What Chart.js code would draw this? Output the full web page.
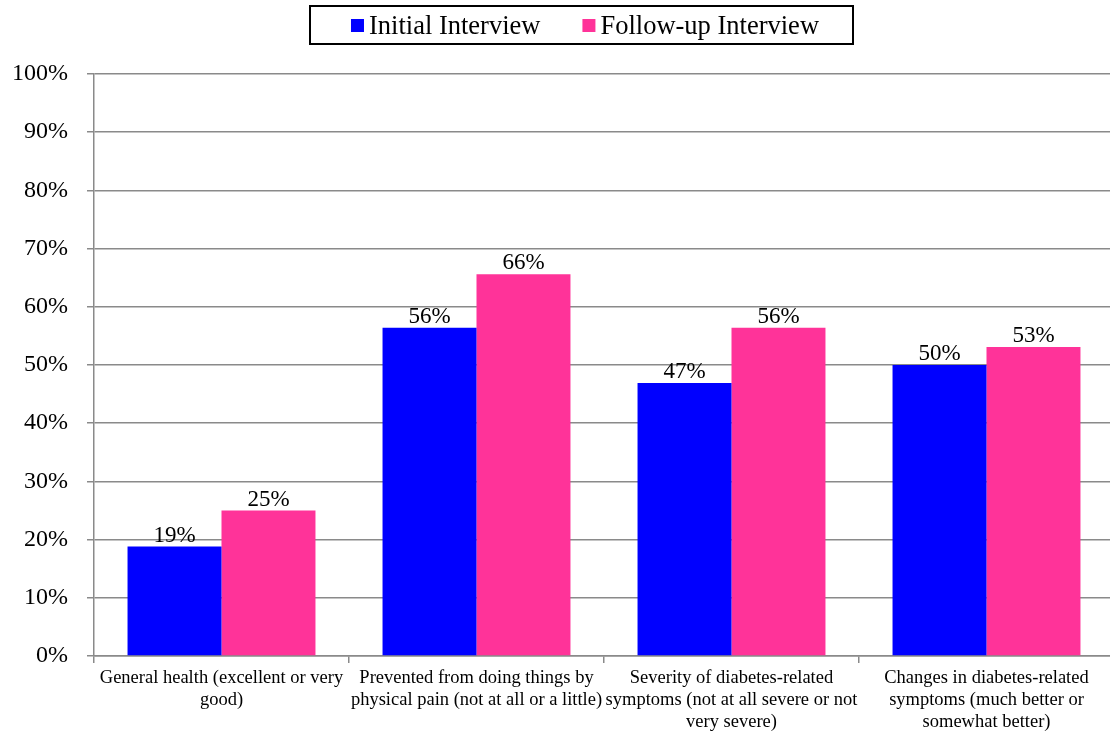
<!DOCTYPE html>
<html>
<head>
<meta charset="utf-8">
<script src="https://cdn.jsdelivr.net/npm/chart.js@4.4.1/dist/chart.umd.min.js"></script>
<style>
  html, body { margin: 0; padding: 0; background: #fff; overflow: hidden; }
  #wrap { width: 1110px; height: 731px; overflow: hidden; }
</style>
</head>
<body>
<div id="wrap"><canvas id="chart" width="1114" height="731"></canvas></div>
<script>
const categories = [
  ['General health (excellent or very', 'good)'],
  ['Prevented from doing things by', 'physical pain (not at all or a little)'],
  ['Severity of diabetes-related', 'symptoms (not at all severe or not', 'very severe)'],
  ['Changes in diabetes-related', 'symptoms (much better or', 'somewhat better)']
];
const initialValues = [18.8, 56.4, 46.9, 50.0];
const followUpValues = [25.0, 65.6, 56.4, 53.1];
const seriesNames = ['Initial Interview', 'Follow-up Interview'];
const yTicks = [0, 10, 20, 30, 40, 50, 60, 70, 80, 90, 100];

const serif = '"Liberation Serif", "Times New Roman", serif';
const gridColor = '#8a8a8a';

// value labels above each bar
const valueLabels = {
  id: 'valueLabels',
  afterDatasetsDraw(chart) {
    const ctx = chart.ctx;
    ctx.save();
    ctx.font = '23px ' + serif;
    ctx.fillStyle = '#000';
    ctx.textAlign = 'center';
    ctx.textBaseline = 'alphabetic';
    chart.data.datasets.forEach((ds, i) => {
      chart.getDatasetMeta(i).data.forEach((bar, j) => {
        ctx.fillText(Math.round(ds.data[j]) + '%', bar.x, bar.y - 5);
      });
    });
    ctx.restore();
  }
};

// boxed legend at the top
const boxLegend = {
  id: 'boxLegend',
  afterDraw(chart) {
    const ctx = chart.ctx;
    ctx.save();
    ctx.font = '26.5px ' + serif;
    const sq = 13, gapText = 5, gapItem = 42;
    const items = chart.data.datasets.map(ds => ({ text: ds.label, color: ds.backgroundColor, w: ctx.measureText(ds.label).width }));
    let total = 0;
    items.forEach((it, k) => { total += sq + gapText + it.w + (k ? gapItem : 0); });
    const cx = 585;
    ctx.lineWidth = 2;
    ctx.strokeStyle = '#000';
    ctx.strokeRect(310, 6, 543, 38);
    let x = cx - total / 2;
    items.forEach((it, k) => {
      if (k) x += gapItem;
      ctx.fillStyle = it.color;
      ctx.fillRect(x, 19, sq, sq);
      x += sq + gapText;
      ctx.fillStyle = '#000';
      ctx.textBaseline = 'alphabetic';
      ctx.fillText(it.text, x, 34);
      x += it.w;
    });
    ctx.restore();
  }
};

new Chart(document.getElementById('chart'), {
  type: 'bar',
  data: {
    labels: categories,
    datasets: [
      { label: seriesNames[0], data: initialValues, backgroundColor: '#0000ff', barPercentage: 1, categoryPercentage: 0.737 },
      { label: seriesNames[1], data: followUpValues, backgroundColor: '#ff3399', barPercentage: 1, categoryPercentage: 0.737 }
    ]
  },
  options: {
    responsive: false,
    animation: false,
    layout: { padding: { top: 74, right: 0, left: 0, bottom: 0 } },
    plugins: { legend: { display: false }, tooltip: { enabled: false } },
    scales: {
      x: {
        offset: true,
        grid: { offset: true, drawOnChartArea: false, drawTicks: true, tickLength: 7, color: gridColor, lineWidth: 1.5 },
        border: { color: gridColor, width: 1.5 },
        ticks: { color: '#000', font: { family: serif, size: 18.5, lineHeight: 1.19 }, padding: 4, maxRotation: 0, autoSkip: false },
        afterFit(scale) { scale.height = 75; }
      },
      y: {
        min: 0,
        max: 100,
        afterBuildTicks(scale) { scale.ticks = yTicks.map(v => ({ value: v })); },
        grid: { color: gridColor, lineWidth: 1.5, tickLength: 7 },
        border: { color: gridColor, width: 1.5 },
        ticks: { color: '#000', font: { family: serif, size: 24 }, padding: 19, callback: v => v + '%' },
        afterFit(scale) { scale.width = 94; }
      }
    }
  },
  plugins: [valueLabels, boxLegend]
});
</script>
</body>
</html>
